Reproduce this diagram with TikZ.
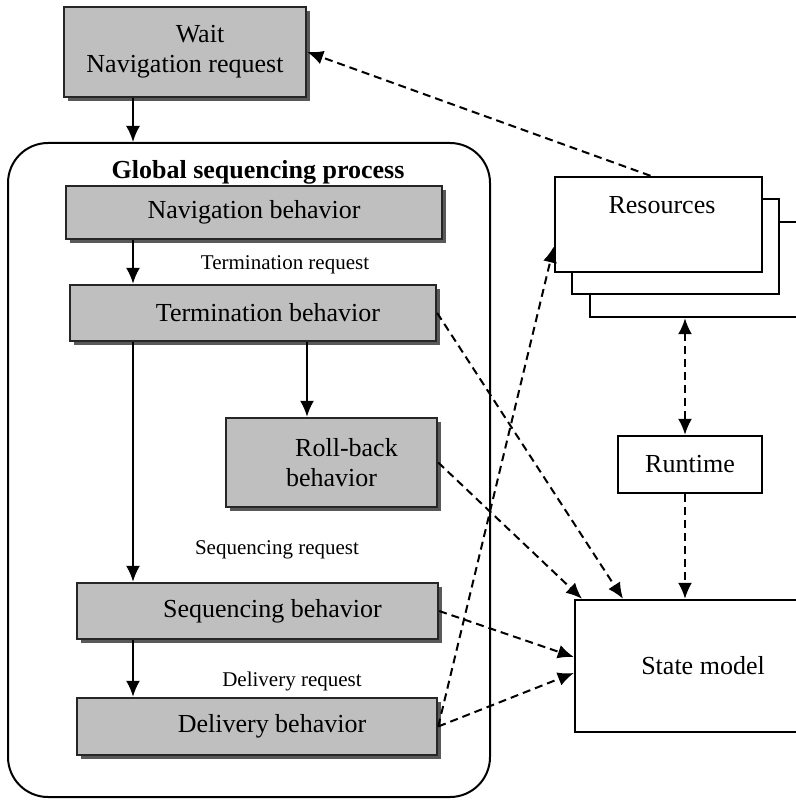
\documentclass[tikz,border=0pt]{standalone}
\usepackage{fontspec}
\setmainfont{Liberation Serif}
\usetikzlibrary{arrows.meta,shadows}

\begin{document}
\begin{tikzpicture}[x=0.5pt,y=-0.5pt,>={Latex[length=8pt,width=7pt]}]
      \tikzstyle behavior=[draw=black!85,line width=1.2pt,fill=gray!50,
      drop shadow={shadow xshift=2pt,shadow yshift=-2pt,fill=black!65,opacity=1},
      font=\fontsize{13}{15}\selectfont,align=center]
      \tikzstyle store=[draw,line width=1.2pt,fill=white,font=\fontsize{13}{15}\selectfont]
      \tikzstyle request=[font=\fontsize{10.5}{12}\selectfont]
      \tikzstyle flow=[line width=1pt,->]
      \tikzstyle data=[line width=1pt,dash pattern=on 4pt off 2.5pt,->]
      \useasboundingbox (0,0) rectangle (796,802);
      \node [behavior,minimum width=121pt,minimum height=45pt] (wait) at (185,52) {\hspace*{15pt}Wait\\Navigation request};
      \node [draw,line width=1pt,rounded corners=20pt,minimum width=241pt,minimum height=327pt] (gsp) at (249,470) {};
      \node [font=\fontsize{13}{15}\selectfont\bfseries] (gsptext) at (258,172) {Global sequencing process};
      \node [behavior,minimum width=188pt,minimum height=26.5pt] (nav) at (254,212.5) {Navigation behavior};
      \node [request] (termreq) at (285,265) {Termination request};
      \node [behavior,minimum width=183pt,minimum height=28pt] (term) at (253,313) {\hspace*{15pt}Termination behavior};
      \node [behavior,minimum width=105.5pt,minimum height=44.5pt] (roll) at (331.5,462.5) {\hspace*{15pt}Roll-back\\behavior};
      \node [request] (seqreq) at (277,550) {Sequencing request};
      \node [behavior,minimum width=180.5pt,minimum height=28pt] (seq) at (257.5,611) {\hspace*{15pt}Sequencing behavior};
      \node [request] (delreq) at (292,681) {Delivery request};
      \node [behavior,minimum width=180pt,minimum height=28.5pt] (deliv) at (257,726.5) {\hspace*{15pt}Delivery behavior};
      \node [store,minimum width=103.5pt,minimum height=47.5pt] (res3) at (693.5,269.5) {};
      \node [store,minimum width=103.5pt,minimum height=47.5pt] (res2) at (675.5,246.5) {};
      \node [store,minimum width=103.5pt,minimum height=47.5pt] (res1) at (658.5,224.5) {};
      \node [font=\fontsize{13}{15}\selectfont] (restext) at (662,205) {Resources};
      \node [store,minimum width=72pt,minimum height=28.5pt] (runtime) at (690,464.5) {Runtime};
      \node [store,minimum width=128pt,minimum height=66pt] (state) at (703,666) {State model};
      \coordinate (lane) at (133,0);
      \coordinate (rlane) at (307,0);
      \coordinate (rtlane) at (685,0);
      \draw [flow] (wait.south -| lane) -- (gsp.north -| lane);
      \draw [flow] (nav.south -| lane) -- (term.north -| lane);
      \draw [flow] (term.south -| lane) -- (seq.north -| lane);
      \draw [flow] (term.south -| rlane) -- (roll.north -| rlane);
      \draw [flow] (seq.south -| lane) -- (deliv.north -| lane);
      \draw [data] ([xshift=-4pt]res1.north) -- (wait.east);
      \draw [data] (term.east) -- ([xshift=-40pt]state.north);
      \draw [data] (roll.east) -- ([xshift=-60.5pt]state.north);
      \draw [data] (seq.east) -- ([yshift=4.5pt]state.west);
      \draw [data] (deliv.east) -- ([yshift=-3.5pt]state.west);
      \draw [data] (deliv.east) -- ([yshift=-11pt]res1.west);
      \draw [data,<->] (res3.south -| rtlane) -- (runtime.north -| rtlane);
      \draw [data] (runtime.south -| rtlane) -- (state.north -| rtlane);
    \end{tikzpicture}
\end{document}
